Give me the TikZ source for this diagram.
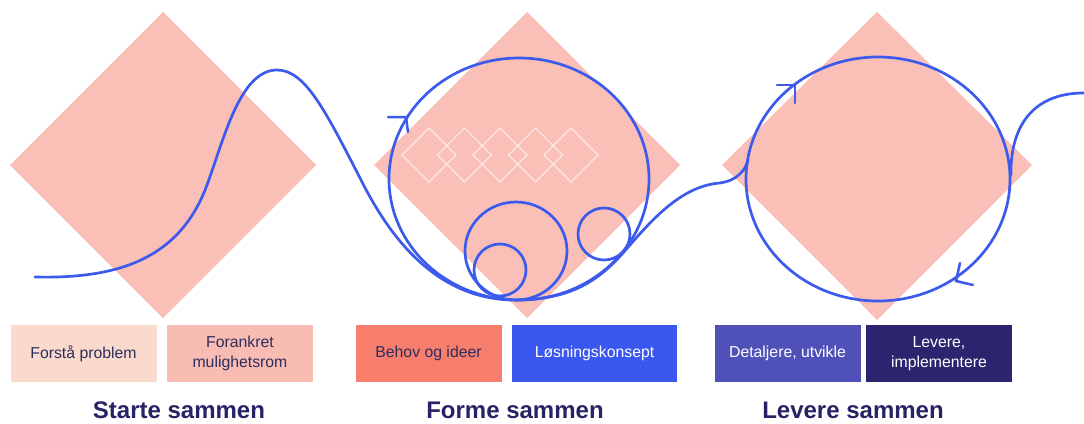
\documentclass[tikz,border=0pt]{standalone}
\usepackage{fontspec}
\setmainfont{Liberation Sans}
\definecolor{dpink}{RGB}{250,192,183}
\definecolor{bpeach}{RGB}{250,218,205}
\definecolor{bpink}{RGB}{249,188,178}
\definecolor{bcoral}{RGB}{247,126,108}
\definecolor{bblue}{RGB}{58,88,240}
\definecolor{bindigo}{RGB}{80,80,185}
\definecolor{bnavy}{RGB}{43,36,110}
\definecolor{lblue}{RGB}{60,90,235}
\definecolor{tnavy}{RGB}{40,35,100}
\definecolor{tdark}{RGB}{45,45,95}
\begin{document}
\begin{tikzpicture}[x=1pt,y=-1pt,
  line/.style={draw=lblue,line width=2.7pt,line cap=round,line join=round},
  chev/.style={draw=lblue,line width=2.5pt,line cap=round},
  mini/.style={draw=white,draw opacity=0.6,line width=1.1pt},
  stage/.style={minimum width=146pt,minimum height=57pt,inner sep=0pt,align=center,font=\fontsize{15.8}{20.5}\selectfont},
  title/.style={font=\fontsize{24}{26}\selectfont\bfseries,text=tnavy}]
\useasboundingbox (0,0) rectangle (1084,423);
% diamonds
\fill[dpink] (163,12) -- (316,165) -- (163,318) -- (10,165) -- cycle;
\fill[dpink] (527,12) -- (680,165) -- (527,318) -- (374,165) -- cycle;
\fill[dpink] (877,12) -- (1032,165) -- (877,320) -- (722,165) -- cycle;
% mini diamonds
\foreach \cx in {429,464.5,500,535.5,571}
  \draw[mini] (\cx,128) -- (\cx+27,155) -- (\cx,182) -- (\cx-27,155) -- cycle;
% blue path: start
\coordinate (s0) at (35,277);
\coordinate (s1) at (207,185);
\coordinate (s2) at (277,70);
\coordinate (s3) at (360,178);
\coordinate (s4) at (512,300);
\draw[line] (s0) .. controls (120,279) and (180,258) .. (s1)
  .. controls (224,139) and (240,70) .. (s2)
  .. controls (305,70) and (325,110) .. (s3)
  .. controls (385,228) and (430,298) .. (s4);
% forme loops
\draw[line] (519,179) ellipse [x radius=130pt, y radius=121pt];
\draw[line] (516,251) ellipse [x radius=51pt, y radius=49pt];
\draw[line] (500,270) circle [radius=26pt];
\draw[line] (604,234) circle [radius=26pt];
% exit
\coordinate (e0) at (515,300);
\coordinate (e1) at (623,253);
\coordinate (e2) at (720,183);
\coordinate (e3) at (748,160);
\draw[line] (e0) .. controls (570,300) and (598,281) .. (e1)
  .. controls (650,222) and (680,186) .. (e2)
  .. controls (735,181) and (745,172) .. (e3);
% levere loop
\draw[line] (878,179) ellipse [x radius=132pt, y radius=122pt];
\coordinate (r0) at (1011,175);
\coordinate (r1) at (1084,93);
\draw[line] (r0) .. controls (1010,130) and (1030,93) .. (r1);
% arrow chevrons
\coordinate (a1) at (406,117);
\draw[chev] (388,117) -- (a1) -- (408,132);
\coordinate (a2) at (795,85);
\draw[chev] (777,85) -- (a2) -- (795,103);
\coordinate (a3) at (956,281);
\draw[chev] (960,263) -- (a3) -- (973,285);
% boxes
\node[stage,fill=bpeach,text=tdark] (b1) at (83.5,353.5) {Forstå problem};
\node[stage,fill=bpink,text=tdark] (b2) at (240,353.5) {Forankret\\mulighetsrom};
\node[stage,fill=bcoral,text=tdark] (b3) at (428.5,353.5) {Behov og ideer};
\node[stage,fill=bblue,text=white,minimum width=165pt] (b4) at (594.5,353.5) {Løsningskonsept};
\node[stage,fill=bindigo,text=white] (b5) at (787.5,353.5) {Detaljere, utvikle};
\node[stage,fill=bnavy,text=white] (b6) at (939,353.5) {Levere,\\implementere};
% titles
\node[title] (t1) at (179,410) {Starte sammen};
\node[title] (t2) at (515,410) {Forme sammen};
\node[title] (t3) at (853,410) {Levere sammen};
\end{tikzpicture}
\end{document}
